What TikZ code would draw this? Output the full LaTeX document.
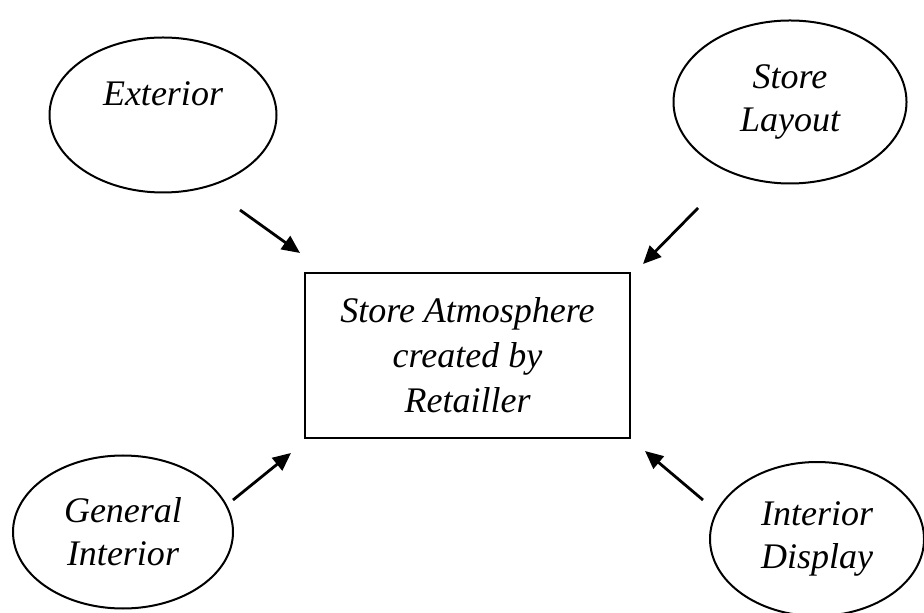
\documentclass[tikz,border=0pt]{standalone}
\usepackage{fontspec}
\setmainfont{Liberation Serif}
\usetikzlibrary{shapes.geometric,arrows.meta}

\begin{document}
\begin{tikzpicture}[x=0.5pt, y=-0.5pt, >={Triangle[length=9pt,width=8pt]}]
        % Styles
        \tikzset{oval/.style={ellipse, draw=black, line width=1pt, inner sep=0pt, align=center, font=\fontsize{18}{21.5}\selectfont\itshape}}
        \tikzset{core/.style={rectangle, draw=black, line width=1pt, inner sep=0pt, align=center, font=\fontsize{18}{22.5}\selectfont\itshape}}
        \tikzset{link/.style={->, line width=1.4pt}}

        \useasboundingbox (0,0) rectangle (924,613);

        % Factors
        \node[oval, minimum width=113.5pt, minimum height=77.5pt] (exterior) at (163,115) {Exterior\\\mbox{}};
        \node[oval, minimum width=116.5pt, minimum height=81.5pt] (layout) at (790,102) {Store\\Layout};
        \node[oval, minimum width=110pt, minimum height=76.5pt] (general) at (123,532) {General\\Interior};
        \node[oval, minimum width=107pt, minimum height=77pt] (display) at (817,539) {Interior\\Display};

        % Core
        \node[core, minimum width=162.5pt, minimum height=82.5pt] (atmosphere) at (467.5,355.5) {Store Atmosphere\\created by\\Retailler};

        % Arrow ends
        \coordinate (exteriorout) at (240,210);
        \coordinate (exteriorin) at (300,253);
        \coordinate (layoutout) at (698,208);
        \coordinate (layoutin) at (643,264);
        \coordinate (generalout) at (233,500);
        \coordinate (generalin) at (291,453);
        \coordinate (displayout) at (703,500);
        \coordinate (displayin) at (645,451);

        % Connections
        \draw[link] (exteriorout) -- (exteriorin);
        \draw[link] (layoutout) -- (layoutin);
        \draw[link] (generalout) -- (generalin);
        \draw[link] (displayout) -- (displayin);
    \end{tikzpicture}
\end{document}
